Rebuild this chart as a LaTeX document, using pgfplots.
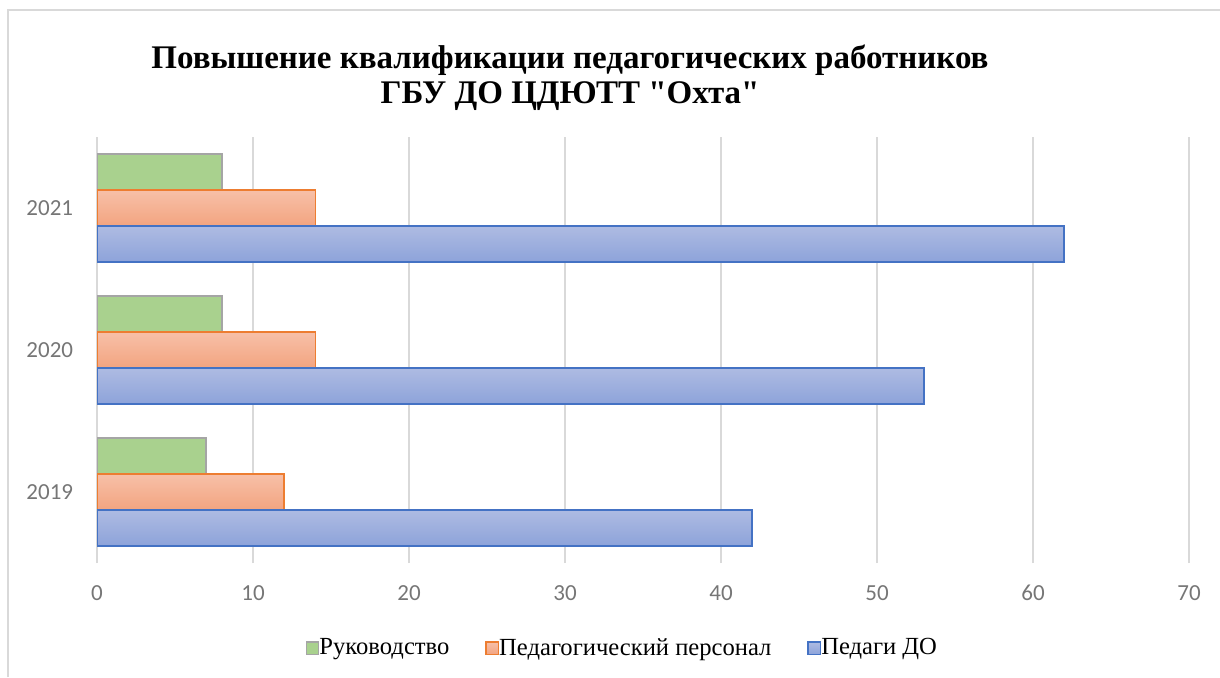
\documentclass[border=0pt]{standalone}
\usepackage{fontspec}
\setmainfont{Liberation Serif}
\newfontfamily\titlefont{Liberation Serif}[Ligatures=TeXOff]
\newfontfamily\calibri{Carlito}
\usepackage{pgfplots}
\pgfplotsset{compat=1.18}
\definecolor{gridc}{RGB}{217,217,217}
\definecolor{tickc}{RGB}{118,118,118}
\definecolor{gfill}{RGB}{169,209,142}
\definecolor{gline}{RGB}{165,165,165}
\definecolor{otop}{RGB}{247,192,168}
\definecolor{obot}{RGB}{243,164,128}
\definecolor{oline}{RGB}{237,125,49}
\definecolor{btop}{RGB}{174,187,226}
\definecolor{bbot}{RGB}{141,163,218}
\definecolor{bline}{RGB}{68,114,196}
\begin{document}
\begin{tikzpicture}
\useasboundingbox (0,0) rectangle (610pt,338.5pt);
\draw[gridc, line width=0.6pt] (4pt,0) -- (4pt,333.5pt) -- (610pt,333.5pt);
\node[align=center, font=\titlefont\fontsize{16.5}{17.5}\selectfont\bfseries] at (285pt,299.5pt)
  {Повышение квалификации педагогических работников\\ГБУ ДО ЦДЮТТ "Охта"};
\begin{axis}[
  at={(48.5pt,57pt)}, anchor=south west,
  scale only axis, width=546pt, height=213pt,
  xbar, bar width=18pt,
  xmin=0, xmax=70, ymin=-0.5, ymax=2.5,
  xtick={0,10,...,70},
  ytick={0,1,2}, yticklabels={2019,2020,2021},
  xmajorgrids, grid style={gridc, line width=0.75pt},
  axis line style={draw=none}, tick style={draw=none},
  /pgf/number format/assume math mode=true,
  ticklabel style={font=\calibri\fontsize{11.5}{13}\selectfont, text=tickc},
  xticklabel style={anchor=center, inner sep=0pt, yshift=-15pt},
  yticklabel style={anchor=east, inner sep=0pt, xshift=-7.5pt},
  legend style={at={(0.482,-0.2)}, anchor=center, draw=none, legend columns=3,
    font=\fontsize{12.3}{14}\selectfont,
    /tikz/every odd column/.append style={column sep=-2pt},
    /tikz/every even column/.append style={column sep=16pt}},
  legend image code/.code={\draw[#1, line width=0.7pt] (0pt,-3.1pt) rectangle (6.2pt,3.1pt);},
  gstyle/.style={bar shift=18pt, fill=gfill, draw=gline, line width=0.75pt},
  ostyle/.style={bar shift=0pt, top color=otop, bottom color=obot, draw=oline, line width=0.75pt},
  bstyle/.style={bar shift=-18pt, top color=btop, bottom color=bbot, draw=bline, line width=0.75pt},
]
% Руководство
\addplot[gstyle] coordinates {(7,0) (8,1) (8,2)};
\addlegendentry{Руководство}
% Педагогический персонал (one bar per plot, so that each bar gets its own gradient)
\addplot[ostyle] coordinates {(12,0)};
\addlegendentry{Педагогический персонал}
\addplot[ostyle, forget plot] coordinates {(14,1)};
\addplot[ostyle, forget plot] coordinates {(14,2)};
% Педаги ДО
\addplot[bstyle] coordinates {(42,0)};
\addlegendentry{Педаги ДО}
\addplot[bstyle, forget plot] coordinates {(53,1)};
\addplot[bstyle, forget plot] coordinates {(62,2)};
\end{axis}
\end{tikzpicture}
\end{document}
